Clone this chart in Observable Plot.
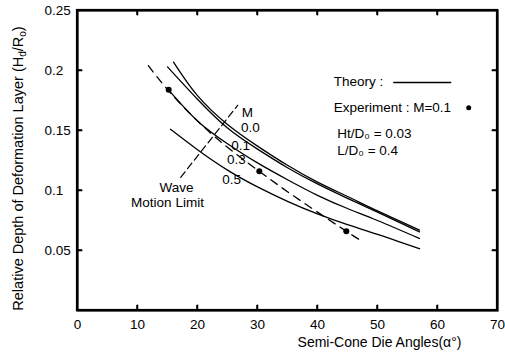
<!DOCTYPE html>
<html><head><meta charset="utf-8">
<script src="https://cdn.jsdelivr.net/npm/d3@7"></script>
<script src="https://cdn.jsdelivr.net/npm/@observablehq/plot@0.6"></script>
<style>html,body{margin:0;padding:0;background:#fff;} #chart{position:relative;width:505px;height:355px;} #overlay{position:absolute;left:0;top:0;pointer-events:none;}</style>
</head><body><div id="chart"></div>
<script>
// Theory curves (relative depth Hd/R0 vs semi-cone die angle)
const curveM = ["0.0", "0.1", "0.3", "0.5"];
const alphaM00 = [16, 20, 25, 30, 35, 40, 45, 50, 57];
const depthM00 = [0.207, 0.179, 0.155, 0.137, 0.121, 0.107, 0.095, 0.083, 0.067];
const alphaM01 = [15, 20, 25, 30, 35, 40, 45, 50, 57];
const depthM01 = [0.203, 0.176, 0.152, 0.1345, 0.119, 0.1055, 0.0935, 0.082, 0.0655];
const alphaM03 = [15.5, 20, 25, 30, 35, 40, 45, 50, 57];
const depthM03 = [0.182, 0.158, 0.139, 0.123, 0.109, 0.096, 0.085, 0.075, 0.060];
const alphaM05 = [15.5, 20, 25, 30, 35, 40, 45, 50, 57];
const depthM05 = [0.151, 0.134, 0.117, 0.103, 0.091, 0.0805, 0.0715, 0.0635, 0.0515];

// Experiment (M = 0.1): fitted dashed line and measured points
const expLineAlpha = [11.8, 15.2, 20, 25, 30.3, 35, 40, 44.8, 47];
const expLineDepth = [0.204, 0.183, 0.158, 0.136, 0.116, 0.099, 0.082, 0.066, 0.059];
const expAlpha = [15.2, 30.3, 44.8];
const expDepth = [0.184, 0.116, 0.066];

// Wave motion limit line
const waveAlpha = [17.2, 26.7];
const waveDepth = [0.111, 0.171];

// Ticks
const xTicks = [0, 10, 20, 30, 40, 50, 60, 70];
const yTicks = [0.05, 0.1, 0.15, 0.2, 0.25];
const yTickLabels = ["0.05", "0.1", "0.15", "0.2", "0.25"];

// Annotations (data coordinates)
const curveLabelText = ["M", "0.0", "0.1", "0.3", "0.5"];
const curveLabelAlpha = [28.3, 28.8, 27.2, 26.5, 25.7];
const curveLabelDepth = [0.165, 0.152, 0.1375, 0.126, 0.109];
const waveLabelText = ["Wave", "Motion Limit"];
const waveLabelAlpha = [16.5, 15.0];
const waveLabelDepth = [0.1025, 0.090];
const legendText = ["Theory :", "Experiment : M=0.1", "Ht/D\u2080 = 0.03", "L/D\u2080 = 0.4"];
const legendAlpha = [42.7, 42.7, 43.3, 43.3];
const legendDepth = [0.191, 0.169, 0.147, 0.133];
const legendLineAlpha = [52.7, 62.2];
const legendLineDepth = [0.190, 0.190];
const legendDotAlpha = [65.2];
const legendDotDepth = [0.169];

const theory = [];
[[alphaM00, depthM00], [alphaM01, depthM01], [alphaM03, depthM03], [alphaM05, depthM05]].forEach(([a, d], k) => {
  a.forEach((v, i) => theory.push({M: curveM[k], alpha: v, depth: d[i]}));
});
const expLine = expLineAlpha.map((a, i) => ({alpha: a, depth: expLineDepth[i]}));
const expPts = expAlpha.map((a, i) => ({alpha: a, depth: expDepth[i]}));
const wave = waveAlpha.map((a, i) => ({alpha: a, depth: waveDepth[i]}));
const curveLabels = curveLabelText.map((t, i) => ({t, alpha: curveLabelAlpha[i], depth: curveLabelDepth[i]}));
const waveLabels = waveLabelText.map((t, i) => ({t, alpha: waveLabelAlpha[i], depth: waveLabelDepth[i]}));
const legend = legendText.map((t, i) => ({t, alpha: legendAlpha[i], depth: legendDepth[i]}));
const legendLine = legendLineAlpha.map((a, i) => ({alpha: a, depth: legendLineDepth[i]}));
const legendDot = legendDotAlpha.map((a, i) => ({alpha: a, depth: legendDotDepth[i]}));

const font = "'Liberation Sans', Arial, sans-serif";
const xMin = xTicks[0], xMax = xTicks[xTicks.length - 1];
const yMin = 0, yMax = yTicks[yTicks.length - 1];

const chart = Plot.plot({
  width: 505, height: 355,
  marginLeft: 77, marginRight: 8, marginTop: 10, marginBottom: 45,
  style: {fontFamily: font, fontSize: "13px"},
  x: {domain: [xMin, xMax]},
  y: {domain: [yMin, yMax]},
  marks: [
    Plot.frame({stroke: "black", strokeWidth: 2.2}),
    Plot.axisX(xTicks, {tickSize: 0, tickPadding: 9, label: null, fontSize: 13.5}),
    Plot.axisY(yTicks, {tickSize: 0, tickPadding: 33, textAnchor: "start", label: null, fontSize: 13.5,
      tickFormat: d => yTickLabels[yTicks.indexOf(d)]}),
    Plot.ruleX(xTicks.slice(1, -1), {y1: yMin, y2: yMin + 0.0045, stroke: "black", strokeWidth: 1.5}),
    Plot.ruleX(xTicks.slice(1, -1), {y1: yMax - 0.0045, y2: yMax, stroke: "black", strokeWidth: 1.5}),
    Plot.ruleY(yTicks.slice(0, -1), {x1: xMin, x2: xMin + 0.9, stroke: "black", strokeWidth: 1.5}),
    Plot.ruleY(yTicks.slice(0, -1), {x1: xMax - 0.9, x2: xMax, stroke: "black", strokeWidth: 1.5}),
    Plot.line(theory, {x: "alpha", y: "depth", z: "M", curve: "natural", stroke: "black", strokeWidth: 1.3}),
    Plot.line(expLine, {x: "alpha", y: "depth", curve: "natural", stroke: "black", strokeWidth: 1.3, strokeDasharray: "8,6"}),
    Plot.dot(expPts, {x: "alpha", y: "depth", r: 3, fill: "black"}),
    Plot.line(wave, {x: "alpha", y: "depth", stroke: "black", strokeWidth: 1.2, strokeDasharray: "7,4"}),
    Plot.text(curveLabels, {x: "alpha", y: "depth", text: "t", fontSize: 13.5, textAnchor: "middle"}),
    Plot.text(waveLabels, {x: "alpha", y: "depth", text: "t", fontSize: 13.5, textAnchor: "middle"}),
    Plot.text(legend, {x: "alpha", y: "depth", text: "t", fontSize: 13.5, textAnchor: "start"}),
    Plot.line(legendLine, {x: "alpha", y: "depth", stroke: "black", strokeWidth: 1.3}),
    Plot.dot(legendDot, {x: "alpha", y: "depth", r: 2.5, fill: "black"}),
    Plot.text(["Semi-Cone Die Angles(\u03b1\u00b0)"], {frameAnchor: "bottom", text: d => d, dx: 92, dy: 36, fontSize: 14, textAnchor: "middle"}),
    Plot.text(["Relative Depth of Deformation Layer (Hd/Ro)"], {frameAnchor: "left", text: d => d, rotate: -90, dx: -59, dy: 8, fontSize: 14.5, textAnchor: "middle"})
  ]
});
document.getElementById("chart").appendChild(chart);

// Subscripts in the y-axis title
d3.select(chart).selectAll("text").filter(function() { return this.textContent.startsWith("Relative"); })
  .each(function() {
    const t = d3.select(this);
    t.text(null);
    t.append("tspan").text("Relative Depth of Deformation Layer (H");
    t.append("tspan").attr("dy", 3).attr("font-size", 10).text("d");
    t.append("tspan").attr("dy", -3).text("/R");
    t.append("tspan").attr("dy", 3).attr("font-size", 10).text("o");
    t.append("tspan").attr("dy", -3).text(")");
  });

// Frame and inward ticks in an overlay SVG, positioned through Plot's own scales
const sx = chart.scale("x"), sy = chart.scale("y");
const X = v => sx.apply(v), Y = v => sy.apply(v);
const ov = d3.select("#chart").append("svg").attr("id", "overlay")
  .attr("width", 505).attr("height", 355).attr("viewBox", "0 0 505 355");
const g = ov.append("g").attr("stroke", "black").attr("fill", "none");
g.append("rect").attr("x", X(xMin)).attr("y", Y(yMax))
  .attr("width", X(xMax) - X(xMin)).attr("height", Y(yMin) - Y(yMax)).attr("stroke-width", 2.2);
const tl = 5;
xTicks.slice(1, -1).forEach(v => {
  g.append("line").attr("x1", X(v)).attr("x2", X(v)).attr("y1", Y(yMin)).attr("y2", Y(yMin) - tl).attr("stroke-width", 1.5);
  g.append("line").attr("x1", X(v)).attr("x2", X(v)).attr("y1", Y(yMax)).attr("y2", Y(yMax) + tl).attr("stroke-width", 1.5);
});
yTicks.slice(0, -1).forEach(v => {
  g.append("line").attr("x1", X(xMin)).attr("x2", X(xMin) + tl).attr("y1", Y(v)).attr("y2", Y(v)).attr("stroke-width", 1.5);
  g.append("line").attr("x1", X(xMax)).attr("x2", X(xMax) - tl).attr("y1", Y(v)).attr("y2", Y(v)).attr("stroke-width", 1.5);
});
</script>
</body></html>
